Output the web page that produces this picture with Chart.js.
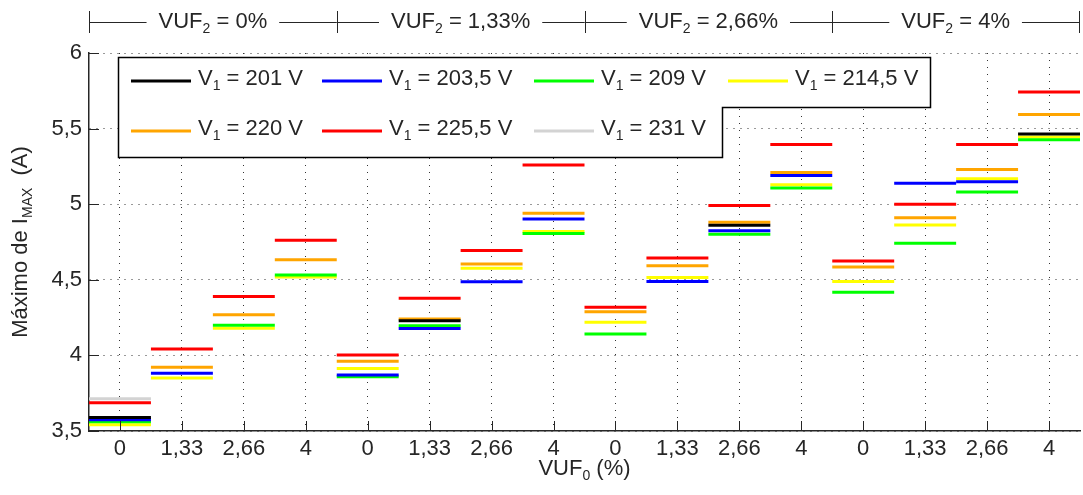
<!DOCTYPE html>
<html>
<head>
<meta charset="utf-8">
<script src="https://cdn.jsdelivr.net/npm/chart.js@4.4.1/dist/chart.umd.min.js"></script>
<style>
  html, body { margin: 0; padding: 0; background: #fff; }
  #wrap { position: relative; width: 1083px; height: 495px; }
</style>
</head>
<body>
<div id="wrap"><canvas id="chart"></canvas></div>
<script>
// VUF0 categories, repeated for each VUF2 group
var vufLabels = ["0", "1,33", "2,66", "4", "0", "1,33", "2,66", "4",
                 "0", "1,33", "2,66", "4", "0", "1,33", "2,66", "4"];
var groupLabels = ["0%", "1,33%", "2,66%", "4%"];
var yTickValues = [3.5, 4, 4.5, 5, 5.5, 6];
var yTickLabels = ["3,5", "4", "4,5", "5", "5,5", "6"];

// Maximo de I_MAX (A) for each V1
var v201  = [3.590, null, null, null, null, 4.229, null, null, null, null, 4.860, null, null, null, null, 5.465];
var v2035 = [3.575, 3.882, null, null, 3.871, 4.178, 4.487, 4.902, null, 4.489, 4.825, 5.189, null, 5.138, 5.149, null];
var v209  = [3.562, null, 4.200, 4.531, 3.858, 4.196, null, 4.807, 4.142, null, 4.802, 5.107, 4.418, 4.742, 5.080, 5.427];
var v2145 = [3.542, 3.851, 4.180, 4.518, 3.913, null, 4.576, 4.820, 4.220, 4.515, null, 5.129, 4.489, 4.862, 5.169, 5.445];
var v220  = [null, 3.922, 4.269, 4.633, 3.962, 4.240, 4.604, 4.940, 4.289, 4.593, 4.880, 5.209, 4.585, 4.911, 5.229, 5.593];
var v2255 = [3.687, 4.042, 4.389, 4.762, 4.002, 4.378, 4.693, 5.260, 4.318, 4.644, 4.991, 5.395, 4.625, 5.000, 5.395, 5.742];
var v231  = [3.713, null, null, null, null, null, null, null, null, null, null, null, null, null, null, null];

var seriesNames = ["201 V", "203,5 V", "209 V", "214,5 V", "220 V", "225,5 V", "231 V"];
var seriesData = [v201, v2035, v209, v2145, v220, v2255, v231];
var seriesColors = ["#000000", "#0000ff", "#00ff00", "#ffff00", "#ffa500", "#ff0000", "#d3d3d3"];

var FONT = "'Liberation Sans', Arial, sans-serif";
var TXT = "#262626";
var MAIN = 22, SUB = 14;

function richText(ctx, parts, x, y, align) {
  var w = 0;
  parts.forEach(function (p) {
    ctx.font = (p[1] ? SUB : MAIN) + "px " + FONT;
    w += ctx.measureText(p[0]).width;
  });
  var cx = align === "center" ? x - w / 2 : x;
  parts.forEach(function (p) {
    ctx.font = (p[1] ? SUB : MAIN) + "px " + FONT;
    ctx.fillText(p[0], cx, p[1] ? y + 7 : y);
    cx += ctx.measureText(p[0]).width;
  });
  return w;
}

var decor = {
  id: "decor",
  afterDraw: function (chart) {
    var ctx = chart.ctx;
    var area = chart.chartArea;
    var xs = chart.scales.x, ys = chart.scales.y;
    ctx.save();
    ctx.strokeStyle = TXT;
    ctx.lineWidth = 1;

    // inner tick marks
    ctx.beginPath();
    vufLabels.forEach(function (l, i) {
      var px = Math.round(xs.getPixelForValue(i)) + 0.5;
      ctx.moveTo(px, area.bottom);
      ctx.lineTo(px, area.bottom - 10);
    });
    yTickValues.forEach(function (v) {
      var py = Math.round(ys.getPixelForValue(v)) + 0.5;
      ctx.moveTo(area.left, py);
      ctx.lineTo(area.left + 10, py);
    });
    ctx.stroke();

    ctx.fillStyle = TXT;
    ctx.textBaseline = "middle";

    // VUF2 brackets on top
    var ty = 22;
    var n = vufLabels.length / groupLabels.length;
    var bounds = [area.left];
    for (var g = 1; g < groupLabels.length; g++) {
      bounds.push(xs.getPixelForValue(g * n - 0.5));
    }
    bounds.push(area.right - 1);
    ctx.beginPath();
    bounds.forEach(function (b) {
      var bx = Math.round(b) + 0.5;
      ctx.moveTo(bx, ty - 11);
      ctx.lineTo(bx, ty + 11);
    });
    groupLabels.forEach(function (lab, g) {
      var mid = (bounds[g] + bounds[g + 1]) / 2;
      var parts = [["VUF", false], ["2", true], [" = " + lab, false]];
      var w = richText(ctx, parts, mid, ty, "center");
      ctx.moveTo(bounds[g], ty + 0.5);
      ctx.lineTo(mid - w / 2 - 12, ty + 0.5);
      ctx.moveTo(mid + w / 2 + 12, ty + 0.5);
      ctx.lineTo(bounds[g + 1], ty + 0.5);
    });
    ctx.stroke();

    // axis titles
    richText(ctx, [["VUF", false], ["0", true], [" (%)", false]], (area.left + area.right) / 2, 469, "center");
    ctx.save();
    ctx.translate(24, (area.top + area.bottom) / 2);
    ctx.rotate(-Math.PI / 2);
    richText(ctx, [["Máximo de I", false], ["MAX", true], ["  (A)", false]], 0, -3, "center");
    ctx.restore();

    // legend box
    var L = area.left + 29, T = area.top + 4;
    ctx.beginPath();
    ctx.moveTo(L + 0.5, T + 0.5);
    ctx.lineTo(L + 812.5, T + 0.5);
    ctx.lineTo(L + 812.5, T + 50.5);
    ctx.lineTo(L + 604.5, T + 50.5);
    ctx.lineTo(L + 604.5, T + 100.5);
    ctx.lineTo(L + 0.5, T + 100.5);
    ctx.closePath();
    ctx.fillStyle = "#ffffff";
    ctx.fill();
    ctx.lineWidth = 1.5;
    ctx.strokeStyle = "#000000";
    ctx.stroke();

    var cols = [13, 204, 416, 610];
    seriesNames.forEach(function (name, i) {
      var row = i < 4 ? 0 : 1;
      var col = i < 4 ? i : i - 4;
      var sx = L + cols[col];
      var sy = T + 24 + row * 50;
      ctx.beginPath();
      ctx.lineWidth = 3;
      ctx.strokeStyle = seriesColors[i];
      ctx.moveTo(sx, sy);
      ctx.lineTo(sx + 60, sy);
      ctx.stroke();
      ctx.fillStyle = TXT;
      richText(ctx, [["V", false], ["1", true], [" = " + name, false]], sx + 67, sy - 2, "left");
    });
    ctx.restore();
  }
};

var datasets = seriesData.map(function (d, i) {
  return {
    label: "V1 = " + seriesNames[i],
    data: d,
    showLine: false,
    pointStyle: "line",
    pointRadius: function (c) {
      var s = c.chart.scales.x;
      return (s.right - s.left) / vufLabels.length / 2;
    },
    pointBorderWidth: 3,
    pointBorderColor: seriesColors[i],
    pointBackgroundColor: seriesColors[i]
  };
});

new Chart(document.getElementById("chart"), {
  type: "line",
  data: { labels: vufLabels, datasets: datasets },
  plugins: [decor],
  options: {
    responsive: true,
    maintainAspectRatio: false,
    animation: false,
    events: [],
    layout: { padding: { top: 53, right: 3, left: 0, bottom: 0 } },
    plugins: { legend: { display: false }, tooltip: { enabled: false } },
    scales: {
      x: {
        type: "category",
        offset: true,
        afterFit: function (s) { s.height = 64; },
        grid: { offset: false, drawTicks: false, color: "#333333", lineWidth: 1 },
        border: { display: true, color: TXT, width: 1.5, dash: [1, 6] },
        ticks: { color: TXT, font: { family: FONT, size: MAIN }, padding: 5, maxRotation: 0, autoSkip: false }
      },
      y: {
        min: 3.5,
        max: 6,
        afterFit: function (s) { s.width = 89; },
        afterBuildTicks: function (s) {
          s.ticks = yTickValues.map(function (v) { return { value: v }; });
        },
        grid: { drawTicks: false, color: "#333333", lineWidth: 1 },
        border: { display: true, color: TXT, width: 1.5, dash: [1, 6] },
        ticks: {
          color: TXT,
          font: { family: FONT, size: MAIN },
          padding: 7,
          callback: function (v, i) { return yTickLabels[i]; }
        }
      }
    }
  }
});
</script>
</body>
</html>
